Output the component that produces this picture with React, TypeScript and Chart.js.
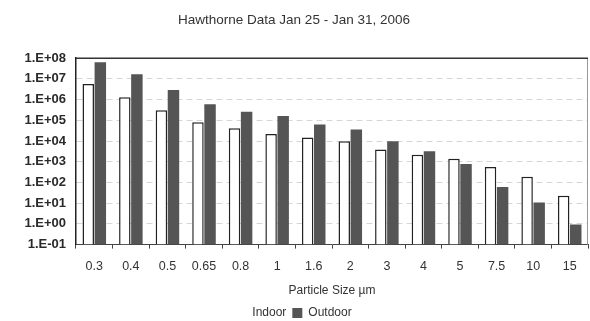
import { useEffect, useRef } from "react";
import { Chart, registerables } from "chart.js";
Chart.register(...registerables);

const categories = ["0.3", "0.4", "0.5", "0.65", "0.8", "1", "1.6", "2", "3", "4", "5", "7.5", "10", "15"];
const indoor = [5.7e6, 1.3e6, 3.1e5, 8.1e4, 4.2e4, 2.2e4, 1.5e4, 9.8e3, 3.9e3, 2.2e3, 1.4e3, 5.6e2, 1.9e2, 23];
const outdoor = [6.4e7, 1.7e7, 2.9e6, 6.0e5, 2.6e5, 1.6e5, 6.3e4, 3.6e4, 9.8e3, 3.2e3, 7.9e2, 60, 10.7, 0.93];
const yTicks = [0.1, 1, 10, 100, 1e3, 1e4, 1e5, 1e6, 1e7, 1e8];

const FONT = "'Liberation Sans', Arial, sans-serif";

function fmt(v: number) {
  const e = Math.round(Math.log10(v));
  return "1.E" + (e < 0 ? "-" : "+") + String(Math.abs(e)).padStart(2, "0");
}

const framePlugin = {
  id: "frame",
  afterDatasetsDraw(chart: any) {
    const { ctx, chartArea: a } = chart;
    ctx.save();
    ctx.strokeStyle = "#999";
    ctx.lineWidth = 1;
    ctx.beginPath();
    ctx.moveTo(a.right - 0.5, a.top);
    ctx.lineTo(a.right - 0.5, a.bottom);
    ctx.stroke();
    ctx.strokeStyle = "#333";
    ctx.lineWidth = 1.5;
    ctx.beginPath();
    ctx.moveTo(a.left, a.top);
    ctx.lineTo(a.right, a.top);
    ctx.stroke();
    ctx.restore();
  },
};

export default function App() {
  const ref = useRef<HTMLCanvasElement>(null);
  useEffect(() => {
    if (!ref.current) return;
    const chart = new Chart(ref.current, {
      type: "bar",
      data: {
        labels: categories,
        datasets: [
          {
            label: "Indoor",
            data: indoor,
            backgroundColor: "#ffffff",
            borderColor: "#222",
            borderWidth: 1.5,
            barPercentage: 0.95,
            categoryPercentage: 0.66,
          },
          {
            label: "Outdoor",
            data: outdoor,
            backgroundColor: "#555555",
            borderWidth: 0,
            barPercentage: 0.95,
            categoryPercentage: 0.66,
          },
        ],
      },
      options: {
        animation: false,
        responsive: true,
        maintainAspectRatio: false,
        layout: { padding: { left: 0, right: 2, top: 0, bottom: -8 } },
        plugins: {
          title: {
            display: true,
            text: "Hawthorne Data Jan 25 - Jan 31, 2006",
            color: "#333",
            font: { family: FONT, size: 13.5, weight: "normal" },
            padding: { top: 12, bottom: 30 },
          },
          legend: {
            position: "bottom",
            labels: {
              color: "#333",
              font: { family: FONT, size: 12 },
              boxWidth: 10,
              boxHeight: 10,
              padding: 6,
              generateLabels(chart: any) {
                const items = Chart.defaults.plugins.legend.labels.generateLabels(chart);
                items.forEach((it: any) => {
                  if (it.text === "Indoor") {
                    it.lineWidth = 0;
                    it.strokeStyle = "rgba(0,0,0,0)";
                  }
                });
                return items;
              },
            },
          },
          tooltip: { enabled: false },
        },
        scales: {
          x: {
            grid: { offset: true, drawOnChartArea: false, drawTicks: true, tickLength: 4, color: "#444" },
            border: { display: true, color: "#444", width: 1 },
            ticks: { color: "#333", font: { family: FONT, size: 12.5 }, padding: 10, maxRotation: 0, autoSkip: false },
            title: {
              display: true,
              text: "Particle Size µm",
              color: "#333",
              font: { family: FONT, size: 12 },
              padding: { top: 0, bottom: 3 },
            },
          },
          y: {
            type: "logarithmic",
            min: 0.1,
            max: 1e8,
            afterBuildTicks(s: any) {
              s.ticks = yTicks.map((v) => ({ value: v }));
            },
            afterFit(s: any) {
              s.width = 76;
            },
            grid: {
              drawTicks: false,
              color: (c: any) => (c.tick && c.tick.value === 1e8 ? "rgba(0,0,0,0)" : "rgba(0,0,0,0.16)"),
            },
            border: { display: true, color: "#222", width: 1.5, dash: [6, 4] },
            ticks: {
              color: "#2a2a2a",
              font: { family: FONT, size: 13, weight: "bold" },
              padding: 10,
              callback: (v: any) => fmt(Number(v)),
            },
          },
        },
      },
      plugins: [framePlugin],
    });
    return () => chart.destroy();
  }, []);
  return (
    <div style={{ position: "fixed", left: 0, top: 0, width: 590, height: 321, background: "#fff" }}>
      <canvas ref={ref} />
    </div>
  );
}
